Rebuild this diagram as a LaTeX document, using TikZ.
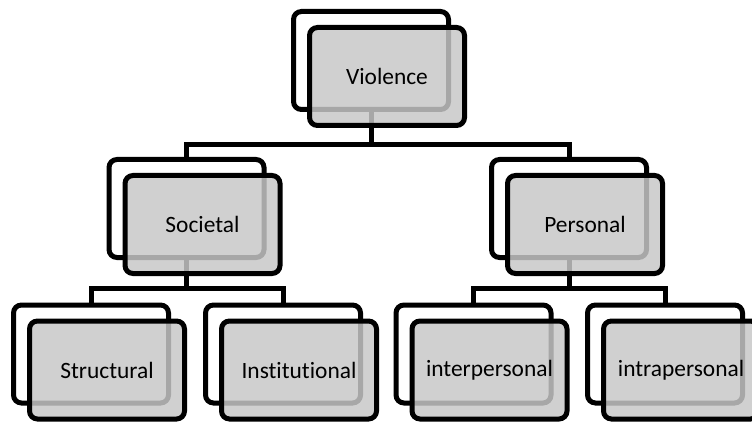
\documentclass[tikz,border=0pt]{standalone}
\usepackage{fontspec}
\setmainfont{Carlito}[Ligatures={NoCommon,NoRare,NoContextual}]
\definecolor{frontgray}{RGB}{199,199,199}
\begin{document}
\begin{tikzpicture}[x=1pt,y=-1pt,
  backbox/.style={draw=black, line width=5pt, rounded corners=8pt, fill=white,
    minimum width=155pt, minimum height=98pt, inner sep=0pt},
  frontbox/.style={draw=black, line width=5pt, rounded corners=8pt, fill=frontgray,
    fill opacity=0.84, draw opacity=1, text opacity=1,
    minimum width=155pt, minimum height=98pt, inner sep=0pt,
    font=\fontsize{23.4}{28}\selectfont},
  link/.style={draw=black, line width=5pt}]
\useasboundingbox (0,0) rectangle (752,422);
\clip (0,0) rectangle (752,422);
% back boxes
\node[backbox] (vb) at (371,60.5) {};
\node[backbox] (sb) at (186.5,208.5) {};
\node[backbox] (pb) at (569,208.5) {};
\node[backbox] (stb) at (91,354) {};
\node[backbox] (inb) at (283,354) {};
\node[backbox] (ieb) at (473.5,354) {};
\node[backbox] (iab) at (665,354) {};
% connectors
\coordinate (j1) at (371,145);
\coordinate (j2) at (186.5,288);
\coordinate (j3) at (569,288);
\draw[link] (vb.south) -- (j1);
\draw[link] (j1) -| (sb.north);
\draw[link] (j1) -| (pb.north);
\draw[link] (sb.south) -- (j2);
\draw[link] (j2) -| (stb.north);
\draw[link] (j2) -| (inb.north);
\draw[link] (pb.south) -- (j3);
\draw[link] (j3) -| (ieb.north);
\draw[link] (j3) -| (iab.north);
% front boxes
\node[frontbox] (vf) at (387,76.5) {Violence};
\node[frontbox] (sf) at (202.5,224.5) {Societal};
\node[frontbox] (pf) at (585,224.5) {Personal};
\node[frontbox] (stf) at (107,370) {Structural};
\node[frontbox] (inf) at (299,370) {Institutional};
\node[frontbox] (ief) at (489.5,370) {interpersonal};
\node[frontbox] (iaf) at (681,370) {intrapersonal};
\end{tikzpicture}
\end{document}
